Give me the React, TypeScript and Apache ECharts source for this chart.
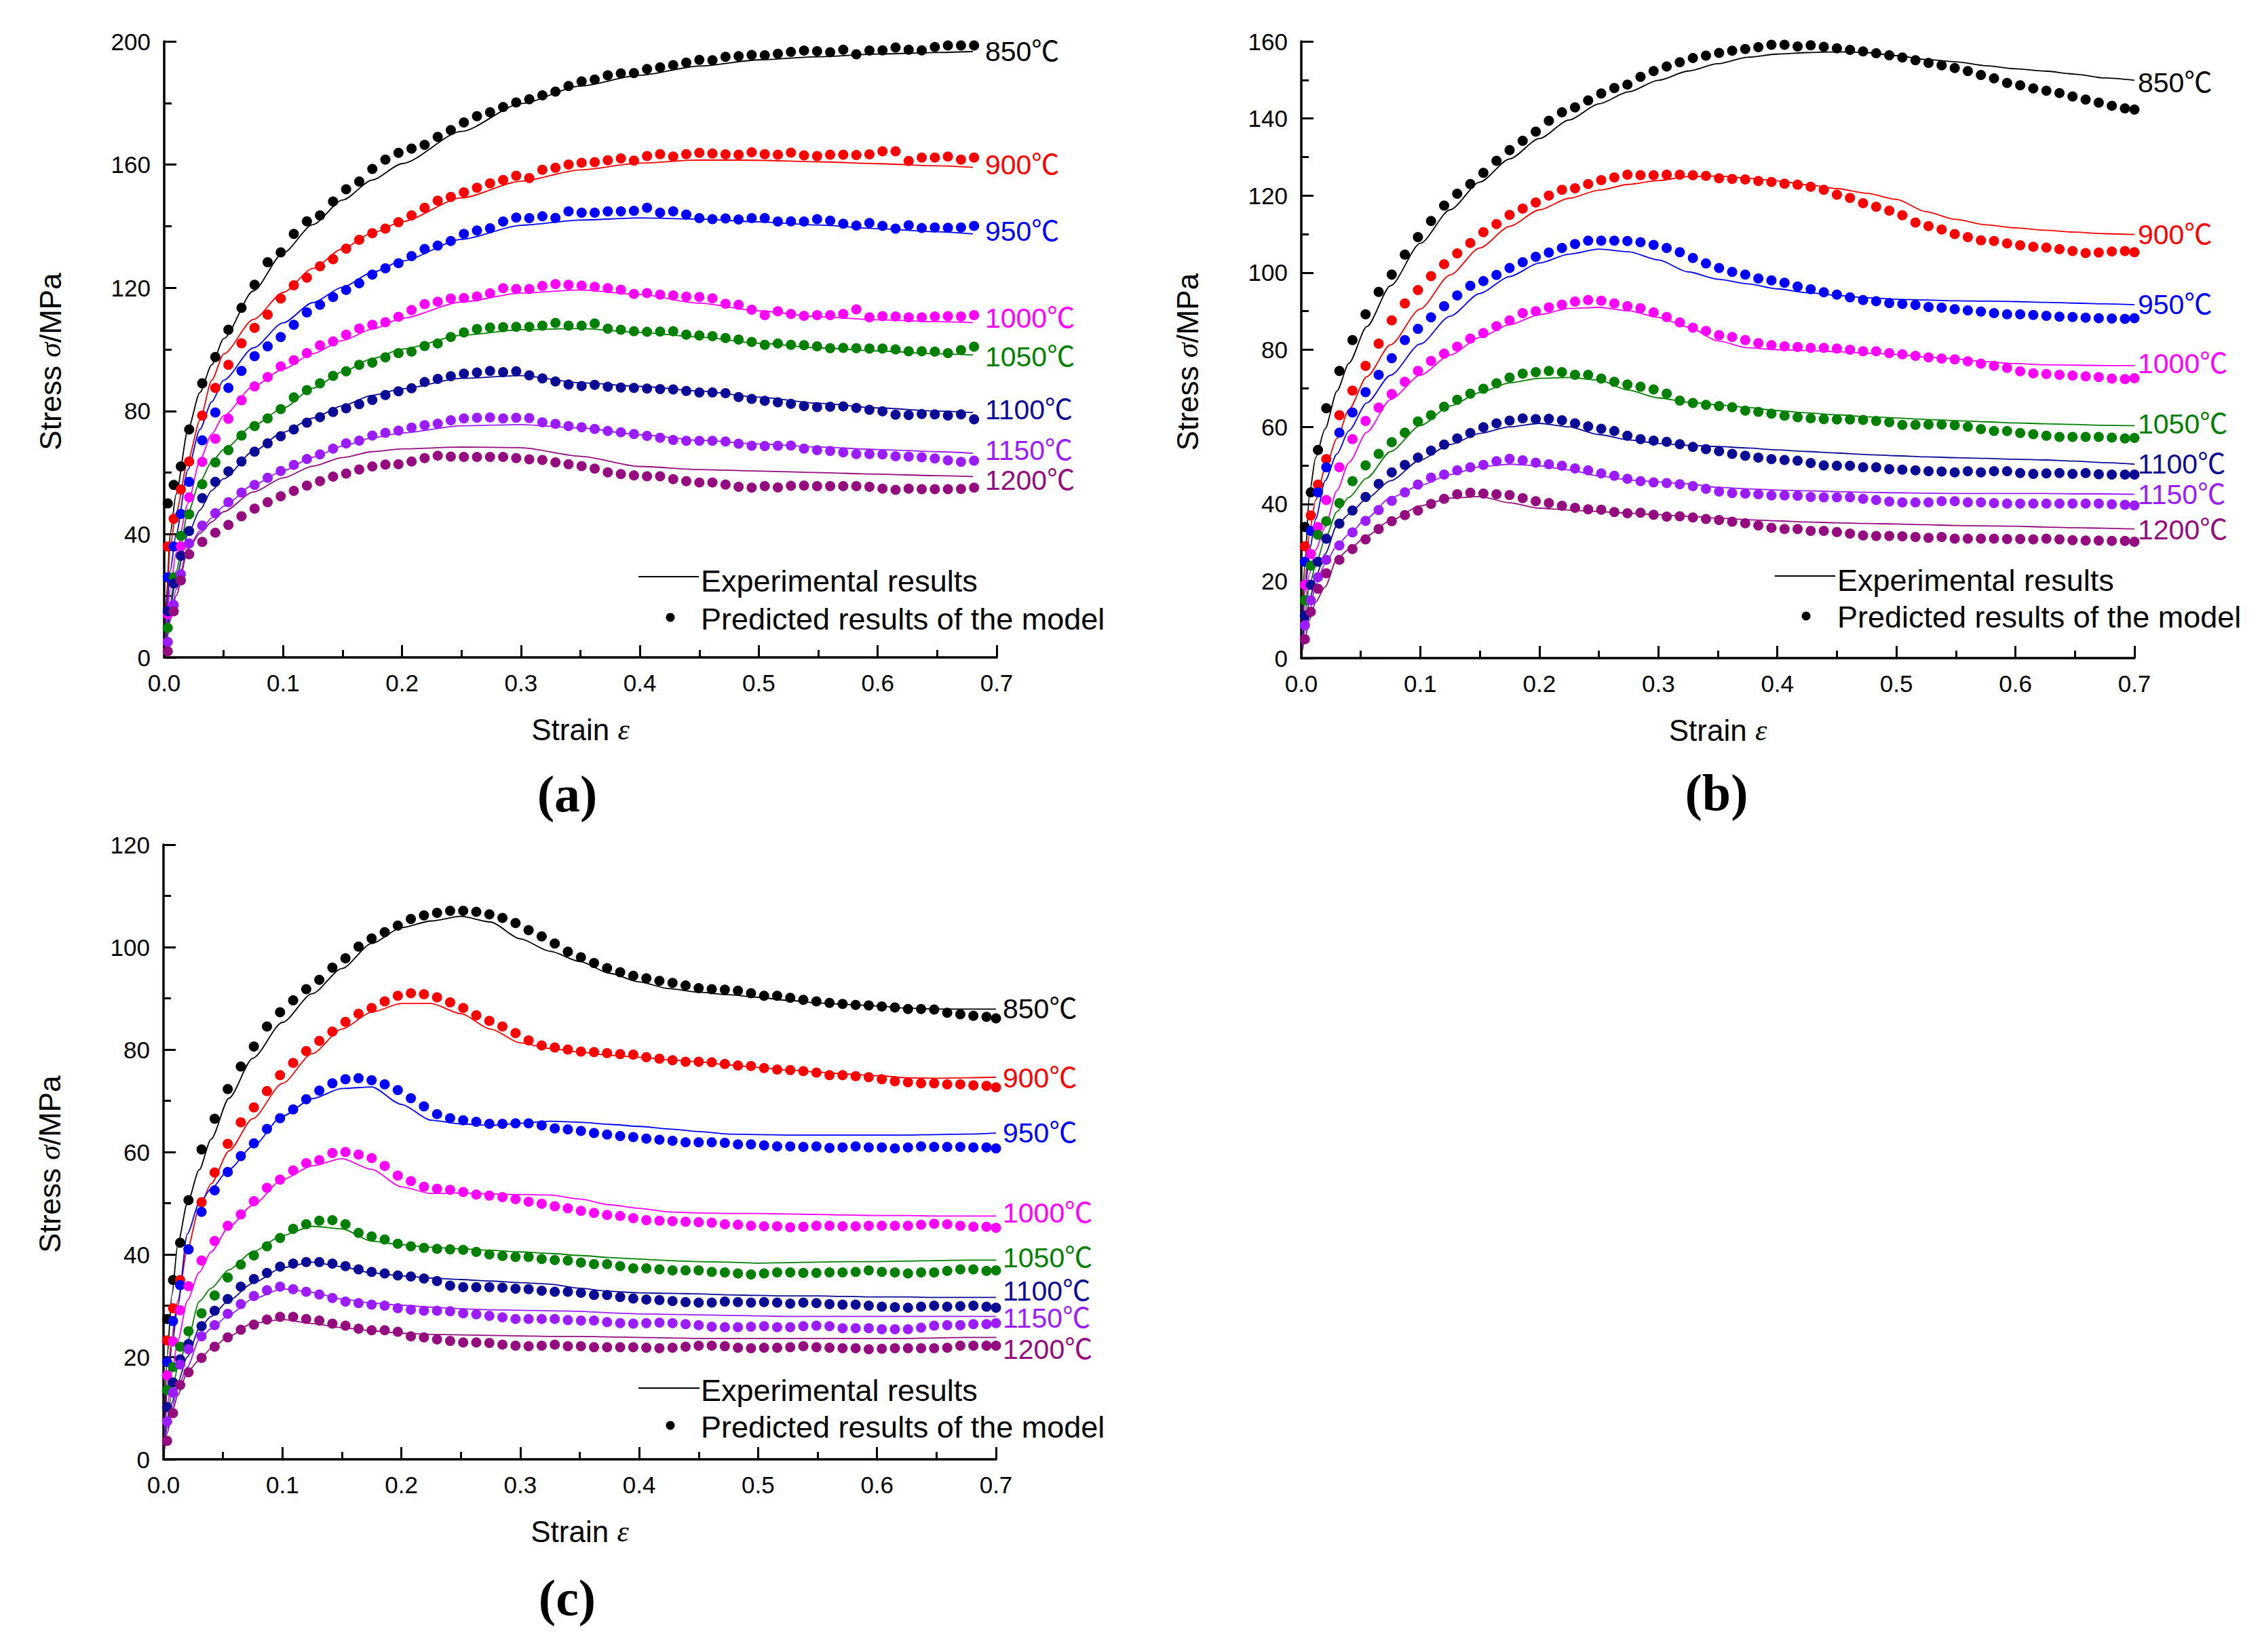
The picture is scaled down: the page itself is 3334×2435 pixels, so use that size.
import React, { useEffect, useRef } from "react";
import * as echarts from "echarts";

// ---------- categories ----------
const temps = ["850", "900", "950", "1000", "1050", "1100", "1150", "1200"];
const colors = ["#000000", "#ff0000", "#0000ff", "#ff00ff", "#008000", "#0b0b96", "#9b1cff", "#940c7e"];

// strain positions of predicted points
const dotStrainA = [
  0.003, 0.008, 0.014, 0.021, 0.032, 0.043, 0.054, 0.065,
  0.076, 0.087, 0.098, 0.109, 0.12, 0.131, 0.142, 0.153,
  0.164, 0.175, 0.186, 0.197, 0.208, 0.219, 0.23, 0.241,
  0.252, 0.263, 0.274, 0.285, 0.296, 0.307, 0.318, 0.329,
  0.34, 0.351, 0.362, 0.373, 0.384, 0.395, 0.406, 0.417,
  0.428, 0.439, 0.45, 0.461, 0.472, 0.483, 0.494, 0.505,
  0.516, 0.527, 0.538, 0.549, 0.56, 0.571, 0.582, 0.593,
  0.604, 0.615, 0.626, 0.637, 0.648, 0.659, 0.67, 0.681,
];
const dotStrainBC = [
  0.003, 0.008, 0.014, 0.021, 0.032, 0.043, 0.054, 0.065,
  0.076, 0.087, 0.098, 0.109, 0.12, 0.131, 0.142, 0.153,
  0.164, 0.175, 0.186, 0.197, 0.208, 0.219, 0.23, 0.241,
  0.252, 0.263, 0.274, 0.285, 0.296, 0.307, 0.318, 0.329,
  0.34, 0.351, 0.362, 0.373, 0.384, 0.395, 0.406, 0.417,
  0.428, 0.439, 0.45, 0.461, 0.472, 0.483, 0.494, 0.505,
  0.516, 0.527, 0.538, 0.549, 0.56, 0.571, 0.582, 0.593,
  0.604, 0.615, 0.626, 0.637, 0.648, 0.659, 0.67, 0.681,
  0.692, 0.7,
];
// strain positions of experimental curves
const lineStrainA = [
  0.001, 0.002, 0.005, 0.01, 0.02, 0.03, 0.04, 0.05,
  0.075, 0.1, 0.125, 0.15, 0.175, 0.2, 0.25, 0.3,
  0.35, 0.4, 0.45, 0.5, 0.55, 0.6, 0.65, 0.68,
];
const lineStrainBC = [
  0.001, 0.003, 0.007, 0.012, 0.02, 0.03, 0.04, 0.055,
  0.075, 0.1, 0.125, 0.15, 0.175, 0.2, 0.225, 0.25,
  0.275, 0.3, 0.325, 0.35, 0.375, 0.4, 0.425, 0.45,
  0.475, 0.5, 0.525, 0.55, 0.575, 0.6, 0.625, 0.65,
  0.675, 0.7,
];

// ---------- panel (a): predicted ----------
const a850 = [
  50, 56, 62, 74, 89, 97.5, 106.4, 113.5,
  121, 128.3, 131.5, 137.5, 141.6, 143.5, 148, 152,
  154.5, 158.6, 161.6, 163.8, 165.2, 166.4, 169, 171.2,
  173.7, 175.7, 177, 178.7, 180.2, 181.2, 182.5, 183.7,
  185.5, 187, 187.6, 189, 189.6, 189.7, 191, 191.6,
  192.3, 193.1, 194, 193.9, 195, 195.2, 195.6, 195.5,
  196, 196.6, 197, 196.8, 196.5, 197.3, 195.8, 197,
  197.1, 198, 197.3, 197.1, 198.2, 198.7, 198.7, 198.7,
];
const a900 = [
  36, 45, 54.5, 63.6, 78.5, 87.5, 95, 102,
  107, 111.3, 116.5, 120.8, 123.3, 127, 129.3, 132.7,
  135.6, 137.7, 139.2, 141.3, 143.5, 146, 148.3, 149.5,
  151, 152.5, 153.9, 155, 156.4, 155.6, 158.3, 159,
  160, 160.6, 160.8, 161.4, 162, 161.3, 162.8, 163.4,
  162.6, 163.4, 163.8, 163.6, 163.3, 163.2, 164, 163.4,
  163.2, 163.9, 163, 162.8, 163.2, 163.2, 163.1, 163.3,
  164.3, 164.3, 161.2, 162.3, 162.3, 162.6, 161.6, 162.3,
];
const a950 = [
  26, 36, 46.6, 57, 70.5, 79.5, 87.5, 93,
  97.8, 101, 104, 108, 112, 114.5, 117, 119.3,
  121.5, 124.3, 126.3, 128, 130.3, 132.6, 133.7, 135.2,
  137.5, 138.6, 139.3, 141.5, 142.8, 142.6, 143.2, 142.7,
  144.8, 144.4, 144.4, 144.8, 144.8, 145, 146, 144.4,
  144.8, 143.8, 142.6, 142.3, 142.5, 142.2, 142.6, 142.6,
  141.5, 141.6, 141.5, 142.3, 141.8, 140.8, 140.2, 141,
  140.1, 139.2, 140.3, 139.4, 139.6, 139.5, 139.6, 140.1,
];
const a1000 = [
  14, 24, 36, 52, 63.5, 71, 77.5, 83.5,
  88, 91, 94.5, 96.5, 98.8, 101.3, 102.6, 104.8,
  106.8, 108, 108.8, 110.6, 112.8, 114.7, 115.5, 116.5,
  116.7, 117.2, 118.2, 119.9, 119.6, 119.6, 120.6, 121.2,
  121, 120.7, 120.3, 119.9, 119.4, 118, 118.3, 117.8,
  117.5, 117.1, 117, 116.6, 114.8, 114.5, 112.9, 111.1,
  112.4, 111.5, 110.9, 111.1, 111.1, 111.5, 113, 110.4,
  110.8, 110.7, 110.4, 110.4, 110.7, 110.8, 110.7, 111.1,
];
const a1050 = [
  9.6, 26, 39.5, 46.5, 56.2, 63.3, 67.3, 72,
  75.1, 77.6, 80.6, 84.4, 86.8, 89, 91.4, 92.9,
  95, 95.7, 97.4, 98.8, 99.3, 101.1, 101.9, 104,
  105.5, 106.6, 107.1, 107.2, 107.3, 107.3, 107.7, 108.6,
  107.7, 107.7, 108.4, 106.7, 106.4, 105.9, 105.7, 105.8,
  105.9, 104.8, 104.5, 104.3, 103.7, 103.2, 102.4, 101.5,
  101.9, 101.5, 101.4, 101, 100.4, 100.5, 100.4, 100.3,
  100.3, 100, 99.4, 99.4, 99.3, 98.8, 99.8, 100.9,
];
const a1100 = [
  15, 24, 33, 41, 51.7, 57, 60.4, 63.6,
  66.8, 69.5, 71.8, 74, 76.2, 78, 79.7, 80.9,
  82.2, 83.6, 85.2, 86.4, 87.4, 89.4, 90.4, 91.3,
  92.1, 92.5, 93, 92.6, 92.9, 91.6, 90.6, 89.6,
  88.6, 88.1, 88.5, 87.9, 87.6, 87.5, 87.3, 87.1,
  87, 86.5, 86, 86, 85.8, 84.5, 83.9, 83.3,
  82.8, 82.3, 81.6, 81.3, 81.4, 81.5, 81, 80.4,
  79.9, 78.8, 78.7, 79, 78.9, 78.5, 78.9, 77.3,
];
const a1150 = [
  5, 17, 27, 37, 42.8, 46.8, 50.4, 53.5,
  56, 58.3, 60.5, 62.5, 64.4, 65.9, 67.8, 69.5,
  70.4, 72, 72.9, 73.6, 74.6, 75.4, 75.9, 77,
  77.6, 77.8, 77.9, 77.6, 77.8, 77.7, 76.3, 75.8,
  75.1, 74.7, 74.2, 73.5, 73.1, 72.5, 71.9, 71.3,
  70.6, 70.3, 70.3, 70.3, 70.1, 69.4, 68.7, 68.6,
  68.7, 68.8, 67.8, 67.3, 67, 66.6, 66, 66,
  65.9, 65.3, 65.2, 65, 64.6, 64, 63.5, 63.9,
];
const a1200 = [
  2, 15, 25, 33.5, 37.5, 40.5, 43, 45.8,
  48.3, 50.4, 52.3, 54.1, 55.8, 57.2, 58.7, 59.7,
  61, 62, 62.6, 62.7, 63.6, 64.7, 65.5, 65.2,
  65.1, 65.1, 65.1, 65.1, 64.7, 64.3, 64.1, 63.3,
  62.7, 62.1, 61.3, 60.1, 59.5, 59.1, 58.8, 58.8,
  57.9, 57.2, 56.8, 56.8, 56.1, 55.4, 55.1, 55.6,
  55.2, 55.7, 55.8, 55.6, 55.6, 55.6, 55.6, 55.4,
  54.8, 54.4, 54.8, 54.6, 54.6, 54.6, 54.7, 55.1,
];
// ---------- panel (a): experimental ----------
const aL850 = [10, 20, 40, 53, 74, 86, 95, 103.5, 119, 131.3, 140.5, 148.5, 155, 160.3, 170.8, 179.8, 185.5, 189, 192, 194, 195, 195.9, 196.4, 196.7];
const aL900 = [8, 18, 36, 47, 64, 77, 90, 98.5, 109.7, 118.5, 126.3, 132.7, 137.8, 141.5, 149.2, 154.6, 158.3, 160.5, 161.5, 161.4, 160.9, 160.3, 159.6, 159.1];
const aL950 = [7, 15, 28, 40, 61, 74, 83, 90, 100.5, 108.6, 115.2, 120.2, 125, 128.7, 135.7, 140.3, 142, 142.7, 142.3, 141.4, 140.4, 139.2, 138.2, 137.5];
const aL1000 = [6, 12, 22, 34, 50, 64, 72.5, 78.5, 88, 93.6, 98.6, 102.9, 106.6, 110.1, 115.4, 118.3, 119.3, 117.8, 115, 112.5, 110.6, 109.6, 109, 108.7];
const aL1050 = [5, 10, 18, 28, 47, 57, 63.5, 67.5, 75.3, 80.9, 87.4, 92.7, 97, 100.1, 104.6, 106.4, 106.8, 105.5, 104, 102, 100.5, 99.5, 98.6, 98.2];
const aL1100 = [4, 8, 16, 26, 40, 47.8, 54.2, 58, 66.9, 73.1, 77.7, 81.7, 85.1, 87.2, 90.6, 91.5, 89.2, 88, 86.5, 84.5, 82.5, 81, 80, 79.5];
const aL1150 = [3, 6, 13, 22, 35.5, 41, 45.3, 49.1, 56, 60.6, 65, 68.6, 71.3, 72.9, 75.2, 75.6, 74.5, 72.3, 70.5, 69.3, 68.3, 67.5, 66.8, 66.3];
const aL1200 = [2, 5, 12, 20, 35, 40.3, 44, 47.3, 53.7, 58.3, 62.1, 64.9, 66.8, 67.7, 68.3, 68.1, 65.3, 62, 61, 60.5, 60, 59.5, 59, 58.7];

// ---------- panel (b): predicted ----------
const b850 = [
  34, 43, 54, 64.8, 74.5, 82.5, 89.2, 95,
  99.5, 104.7, 109.2, 113.4, 117.4, 120.5, 123, 125.9,
  129, 131.8, 134.2, 136.6, 139.4, 141.6, 142.9, 144.7,
  146.5, 147.9, 148.8, 150.8, 152.3, 153.5, 154.6, 155.7,
  156.3, 157, 157.6, 158, 158.5, 159.1, 159.1, 158.7,
  159, 158.6, 158.2, 157.8, 157.4, 156.9, 156.4, 155.8,
  155.1, 154.4, 153.8, 153.1, 152.3, 151.3, 150.4, 149.2,
  148.6, 147.8, 147.2, 146.6, 145.7, 144.9, 144.1, 143.3,
  142.6, 142.3,
];
const b900 = [
  29, 37, 45, 51.6, 63, 69.4, 75.8, 81.6,
  87.6, 92, 95.5, 99.1, 102.2, 105, 107.7, 110.5,
  112.6, 115, 116.6, 118.2, 120, 121.5, 121.9, 123,
  124, 124.7, 125.4, 125.3, 125.3, 125.4, 125.4, 125.3,
  125.1, 124.5, 124.3, 124.2, 123.8, 123.5, 123.1, 122.8,
  122.3, 121.5, 120.2, 119.4, 118, 117.1, 116.1, 114.9,
  113, 112.1, 111.2, 110, 109.2, 108.4, 108.2, 107.6,
  107.1, 106.7, 106.5, 106.1, 105.6, 105.1, 105.2, 105.5,
  105.6, 105.3,
];
const b950 = [
  25, 33, 43, 49.5, 58.5, 63.7, 69, 73.5,
  77.8, 82.5, 85.4, 88.4, 91.3, 94.1, 96.6, 97.8,
  99.4, 101.2, 102.7, 104.1, 105.2, 106.4, 107.4, 108.3,
  108.3, 108.3, 108.2, 107.9, 107.2, 106.4, 105.3, 103.8,
  102.4, 101.2, 100.2, 99.5, 98.5, 98, 97.4, 96.4,
  95.7, 94.9, 94.3, 93.6, 92.9, 92.6, 92.1, 91.9,
  91.6, 91.1, 90.9, 90.5, 90.2, 89.9, 89.5, 89.2,
  89.2, 89, 88.8, 88.6, 88.5, 88.3, 88.2, 88.1,
  88, 88.2,
];
const b1000 = [
  19, 27, 34, 41, 49.5, 56.8, 61.5, 65,
  68.5, 71.7, 74.5, 77.1, 79, 80.8, 82.9, 84.3,
  86.1, 87.6, 89.5, 90, 91, 91.7, 92.5, 92.9,
  92.7, 92, 91.3, 90.8, 89.7, 88.5, 87.1, 85.7,
  84.9, 83.8, 83.3, 82.5, 81.7, 81.2, 80.9, 80.7,
  80.5, 80.5, 80.3, 80, 79.6, 79.6, 79.1, 78.8,
  78.4, 78, 77.7, 77.5, 77, 76.4, 75.8, 75.3,
  74.4, 73.9, 73.7, 73.5, 73.3, 73.1, 72.9, 72.5,
  72.4, 72.6,
];
const b1050 = [
  15, 24, 32, 35.5, 40.2, 45.9, 50, 53,
  56, 58.5, 61.4, 63, 65.2, 67, 68.6, 69.9,
  71.3, 72.8, 73.8, 74.2, 74.5, 74.2, 73.5, 73.5,
  72.5, 71.7, 71, 70.4, 69.7, 68.6, 66.8, 66.2,
  65.7, 65.4, 65.1, 64.2, 63.9, 63.4, 62.9, 62.5,
  62.2, 62, 61.9, 61.9, 61.8, 61.5, 61.2, 60.5,
  60.5, 60.6, 60.6, 60.4, 60, 59.4, 58.9, 58.9,
  58.4, 58.1, 57.7, 57.4, 57.4, 57.4, 57.4, 57.2,
  57, 57.1,
];
const b1100 = [
  11, 19, 25, 31, 34.9, 38.3, 41.8, 45.2,
  48.2, 50.1, 52, 53.8, 55.4, 57, 58.4, 59.9,
  60.9, 61.6, 62.2, 62, 62.1, 61.7, 60.9, 60.1,
  59.5, 58.9, 57.7, 56.8, 56.4, 56.1, 55.5, 54.8,
  54.2, 53.7, 53, 52.5, 52, 51.6, 51.4, 51.2,
  50.6, 50, 49.9, 49.9, 49.5, 49.5, 49, 48.9,
  48.7, 48.5, 48.4, 48.2, 48.5, 48.2, 48.5, 48.5,
  48, 47.8, 47.9, 48, 47.8, 48, 47.7, 47.6,
  47.6, 47.6,
];
const b1150 = [
  8.5, 15, 21, 25.5, 29.2, 32.6, 35.6, 38.4,
  40.8, 43, 45, 46.8, 47.6, 48.7, 49.5, 50.1,
  51.1, 51.7, 51.3, 50.7, 50.3, 49.9, 49.2, 48.7,
  47.9, 47.3, 46.5, 45.9, 45.6, 45.4, 45.1, 44.6,
  43.9, 43.2, 42.8, 42.7, 42.5, 42.2, 42.2, 42.1,
  41.8, 41.7, 41.7, 41.7, 41.3, 41, 40.6, 40.4,
  40.4, 40.4, 40.7, 40.7, 40.4, 40.4, 40.2, 40.1,
  40.1, 40.1, 40.1, 40.1, 40.1, 40.1, 40.1, 39.9,
  39.8, 39.6,
];
const b1200 = [
  4.9, 12, 18, 22, 25.5, 28.3, 30.8, 33.5,
  35.5, 37.1, 38.3, 40, 41.3, 42.5, 42.9, 42.7,
  42.5, 42.3, 41.5, 40.7, 40.2, 39.5, 39, 38.6,
  38.5, 37.9, 37.6, 37.7, 37.2, 36.7, 36.8, 36.5,
  36.1, 35.8, 35.4, 35, 34.4, 33.8, 33.5, 33.5,
  33, 33, 32.7, 32.3, 31.8, 31.7, 31.7, 31.6,
  31.4, 31.2, 31.4, 31, 31, 31, 31, 30.9,
  30.9, 30.8, 31, 30.8, 30.6, 30.5, 30.5, 30.4,
  30.4, 30.2,
];
// ---------- panel (b): experimental ----------
const bL850 = [10, 25, 43, 52, 59.5, 69.3, 76.5, 86, 96.6, 107.6, 116.3, 123.5, 129.5, 134.8, 139.6, 143.8, 146.9, 149.9, 152.3, 154.2, 155.9, 156.7, 157.1, 157.3, 157.1, 156.3, 155.3, 154.7, 153.7, 152.9, 152.3, 151.5, 150.5, 149.9];
const bL900 = [8, 20, 33, 41, 49.2, 57, 64.5, 73, 81.3, 90.6, 99.4, 106.4, 112, 116.3, 119.3, 121.4, 122.9, 123.9, 124.9, 125.1, 124.5, 123.8, 122.8, 121.8, 120.6, 119, 115.8, 113.8, 112.4, 111.6, 111, 110.5, 110.1, 109.9];
const bL950 = [7, 17, 28, 36, 46, 53, 59, 66.2, 73.4, 81.5, 88.7, 94.6, 99, 102.5, 104.8, 106.1, 105.4, 103.3, 100.2, 98.3, 97.1, 95.8, 94.8, 94.1, 93.5, 93.1, 92.9, 92.7, 92.6, 92.5, 92.3, 92.1, 91.9, 91.7];
const bL1000 = [6, 14, 22, 28, 34, 43.5, 50.7, 58.6, 67.1, 73.4, 78.6, 83.2, 86.5, 89.1, 90.7, 91, 90.1, 88.4, 85.9, 82.3, 80.5, 80, 79.8, 79.5, 79.1, 78.8, 78.1, 77.6, 76.9, 76.4, 76.1, 76, 75.9, 75.9];
const bL1050 = [5, 12, 19, 24, 31, 38, 41.7, 46.7, 53.6, 60.3, 65.4, 68.9, 71.4, 72.6, 72.8, 72.1, 69.5, 67.5, 66.4, 65.7, 65, 64.2, 63.6, 63.1, 62.6, 62.3, 61.9, 61.6, 61.3, 61, 60.8, 60.6, 60.4, 60.3];
const bL1100 = [4, 9, 15, 21, 27, 34.5, 37.3, 41.4, 46, 51.4, 55.4, 58.3, 60, 60.9, 60, 58, 56.6, 55.7, 55.2, 54.9, 54.5, 54, 53.6, 53.2, 52.8, 52.5, 52.2, 52, 51.8, 51.6, 51.4, 51.1, 50.7, 50.3];
const bL1150 = [3, 7, 12, 19, 24.5, 29.2, 32.1, 36.3, 41.6, 44.8, 47.6, 49.6, 50.3, 49.9, 48.8, 47.3, 46.2, 45.7, 45.2, 44.3, 43.9, 43.6, 43.4, 43.2, 43, 42.9, 42.8, 42.7, 42.7, 42.7, 42.7, 42.6, 42.6, 42.5];
const bL1200 = [2, 5, 10, 14.5, 18.5, 25.8, 28.2, 31.7, 35.7, 39.5, 41.5, 41.9, 40.3, 38.9, 38.4, 38, 37.6, 37.2, 36.8, 36.3, 35.9, 35.6, 35.3, 35.1, 34.9, 34.8, 34.6, 34.4, 34.3, 34.2, 34, 33.8, 33.7, 33.5];

// ---------- panel (c): predicted ----------
const c850 = [
  27.4, 35, 42.3, 50.6, 60.5, 66.5, 72.3, 76.7,
  80.6, 84.5, 87.3, 89.6, 91.8, 93.6, 96, 97.8,
  100.1, 101.7, 102.9, 104.2, 105.5, 106.2, 106.7, 107.1,
  107.1, 106.9, 106.4, 105.7, 104.7, 103.3, 102.1, 100.7,
  99.1, 98, 96.9, 95.9, 95.1, 94.4, 93.9, 93.4,
  93, 92.5, 92, 91.8, 91.7, 91.5, 91, 90.5,
  90.5, 90.1, 89.7, 89.4, 89.1, 88.9, 88.7, 88.6,
  88.4, 88.2, 87.9, 87.9, 87.8, 87.2, 86.9, 86.6,
  86.4, 86.1,
];
const c900 = [
  23.2, 29.5, 35, 41, 50.2, 56, 61.6, 65.8,
  68.7, 71.9, 75, 77.4, 79.7, 81.7, 83.5, 85.4,
  87, 88.1, 89.4, 90.5, 91, 90.8, 90.2, 89.2,
  88.1, 86.7, 85.6, 84.5, 83.2, 81.8, 80.8, 80.4,
  80, 79.6, 79.5, 79.3, 79.1, 79, 78.5, 78.2,
  77.9, 77.6, 77.6, 77.5, 77.2, 76.9, 76.8, 76.4,
  76.1, 76, 75.8, 75.5, 75, 75, 74.8, 74.6,
  74.2, 73.8, 73.6, 73.4, 73.4, 73.2, 73.2, 73,
  72.9, 72.6,
];
const c950 = [
  19, 27, 34, 41, 48.3, 52.5, 56.1, 59.2,
  61.7, 64.5, 66.6, 68.3, 70.3, 72, 73.4, 74.2,
  74.4, 74, 73.2, 72.1, 70.5, 68.9, 67.4, 66.6,
  66.2, 65.9, 65.5, 65.5, 65.6, 65.6, 65.2, 64.6,
  64.4, 64.1, 63.7, 63.4, 63.1, 62.9, 62.6, 62.4,
  62.2, 61.9, 61.9, 61.9, 61.8, 61.5, 61.5, 61.3,
  61.1, 61.1, 61, 61.1, 60.8, 60.9, 61.1, 60.9,
  60.9, 60.7, 60.9, 61.1, 61, 61, 61, 60.9,
  60.9, 60.7,
];
const c1000 = [
  16.4, 23, 29.1, 33.8, 38.8, 42.6, 45.6, 47.8,
  50.4, 53, 54.6, 56.4, 57.8, 58.4, 59.8, 60,
  59.5, 58.8, 57.3, 55.4, 54.3, 53.2, 52.8, 52.6,
  52.2, 51.7, 51.5, 51.2, 50.8, 50.3, 49.9, 49.4,
  49, 48.5, 48.1, 47.7, 47.5, 47.1, 46.7, 46.6,
  46.5, 46.4, 46.3, 46.2, 45.9, 45.8, 45.6, 45.5,
  45.5, 45.3, 45.4, 45.6, 45.6, 45.5, 45.5, 45.6,
  45.6, 45.6, 45.6, 45.8, 46, 45.9, 45.6, 45.4,
  45.4, 45.2,
];
const c1050 = [
  13.5, 18, 22, 25, 28.5, 32, 35.5, 38,
  39.8, 41.6, 43.2, 45, 45.9, 46.6, 46.7, 45.9,
  44.2, 43.5, 42.9, 42.1, 41.6, 41.3, 41.1, 41,
  40.9, 40.5, 40, 39.7, 39.5, 39.5, 39.1, 38.9,
  38.8, 38.4, 38.1, 38.1, 37.7, 37.3, 37.3, 37.1,
  36.9, 36.9, 36.9, 36.6, 36.5, 36.3, 36.1, 36.3,
  36.5, 36.5, 36.4, 36.4, 36.5, 36.5, 36.6, 36.9,
  36.6, 36.5, 36.3, 36.5, 36.5, 36.8, 37.1, 37.1,
  36.8, 36.9,
];
const c1100 = [
  10.2, 15, 19.5, 22.5, 26, 29, 31.3, 33.7,
  35.2, 36.4, 37.6, 38.2, 38.5, 38.5, 38.2, 37.7,
  37.1, 36.6, 36.3, 35.9, 35.7, 35.3, 34.8, 33.9,
  33.6, 33.6, 33.6, 33.5, 33.3, 33.2, 32.9, 32.7,
  32.7, 32.5, 32.1, 32.1, 31.7, 31.4, 31.2, 31.1,
  30.9, 30.7, 30.6, 30.6, 30.8, 30.7, 30.6, 30.7,
  30.6, 30.4, 30.6, 30.5, 30.3, 30.2, 30.2, 30,
  29.8, 29.7, 29.6, 29.8, 30, 29.8, 29.9, 30,
  29.8, 29.6,
];
const c1150 = [
  7.4, 13, 18.5, 21.5, 24, 26.2, 28.4, 30.3,
  31.9, 33, 33.7, 33.2, 32.7, 32.2, 31.5, 30.8,
  30.5, 30.2, 30, 29.5, 29.2, 29, 29, 28.9,
  28.5, 28.3, 28, 27.7, 27.4, 27.4, 27.4, 27.4,
  27.2, 27.1, 27.1, 26.8, 26.6, 26.5, 26.6, 26.7,
  26.6, 26.4, 26.2, 25.9, 25.8, 25.8, 25.9, 26,
  25.8, 25.8, 26, 26.1, 26, 25.6, 25.6, 25.6,
  25.4, 25.4, 25.4, 25.7, 26.1, 26.2, 26.2, 26.4,
  26.4, 26.6,
];
const c1200 = [
  3.6, 9, 14.5, 17, 19.8, 22, 23.8, 25.3,
  26.3, 27.3, 27.8, 27.8, 27.4, 27.1, 26.5, 26.1,
  25.5, 25.2, 25.2, 24.9, 24, 23.8, 23.4, 23.1,
  22.8, 22.8, 22.7, 22.4, 22.2, 22.1, 22.2, 22.4,
  22.1, 22.1, 21.9, 21.9, 21.9, 21.9, 21.8, 21.7,
  21.8, 22, 22.2, 22.2, 22.1, 21.8, 21.7, 21.8,
  21.8, 21.9, 22.1, 21.9, 21.8, 21.7, 21.7, 21.5,
  21.6, 21.7, 21.7, 21.7, 21.7, 21.8, 22.2, 22.2,
  22.2, 22.2,
];
// ---------- panel (c): experimental ----------
const cL850 = [8, 20, 32, 42, 50, 56.5, 62.5, 70.5, 78.3, 85.3, 90.9, 95.8, 100.7, 103.8, 105.1, 106, 104.9, 101.6, 99.2, 97.2, 94.9, 93.2, 91.9, 91.2, 90.7, 90.2, 89.6, 89.1, 88.8, 88.5, 88.1, 87.9, 87.9, 87.9];
const cL900 = [6, 15, 24, 31, 41, 49, 53.8, 60.2, 66.5, 73.4, 79.2, 84, 87.3, 89, 89, 87, 84, 81.3, 80.2, 79.5, 78.9, 78.5, 78, 77.6, 77, 76.5, 76, 75.6, 75.2, 74.9, 74.5, 74.4, 74.5, 74.6];
const cL950 = [5, 13, 22, 30, 44, 50, 52.8, 56.6, 61.1, 67, 70.4, 72.4, 72.7, 69.3, 66.2, 65.5, 65.2, 65.6, 66, 65.8, 65.4, 65, 64.5, 64, 63.5, 63.4, 63.3, 63.3, 63.3, 63.3, 63.3, 63.4, 63.5, 63.7];
const cL1000 = [4, 10, 17, 23, 31, 36.5, 40.5, 45.4, 49.6, 54.6, 57.3, 58.7, 56.6, 53.2, 51.9, 52, 51.8, 51.7, 51.6, 50.8, 49.7, 49, 48.3, 48.1, 48, 48, 47.9, 47.8, 47.7, 47.6, 47.6, 47.5, 47.5, 47.5];
const cL1050 = [3, 8, 13, 18, 23, 30.8, 33.4, 37, 40.5, 43.7, 45.5, 45, 42.6, 41.9, 41.4, 41.1, 40.8, 40.5, 40.2, 39.8, 39.4, 39.1, 38.8, 38.6, 38.5, 38.3, 38.4, 38.5, 38.6, 38.6, 38.7, 38.8, 38.9, 38.9];
const cL1100 = [3, 7, 11, 15, 20, 25.5, 27.9, 31, 34.4, 37.4, 38.5, 37.6, 36.4, 35.8, 35.4, 35.1, 34.8, 34.5, 34.2, 33.4, 32.8, 32.5, 32.4, 32.3, 32.1, 32, 31.9, 31.9, 31.8, 31.7, 31.7, 31.6, 31.6, 31.6];
const cL1150 = [2, 6, 10, 14, 18, 23.4, 25.5, 28.2, 31.3, 33.3, 32.6, 31.3, 30.5, 30.1, 29.7, 29.4, 29.2, 29.1, 29, 28.9, 28.6, 28.4, 28.3, 28.2, 28.1, 28, 27.9, 27.9, 27.9, 27.9, 27.9, 27.9, 27.9, 27.9];
const cL1200 = [2, 5, 9, 12.5, 17, 19.4, 21.6, 24, 26.6, 27.3, 26.5, 25.7, 25.1, 24.6, 24.4, 24.3, 24.2, 24.1, 24, 24, 23.9, 23.8, 23.7, 23.6, 23.6, 23.6, 23.6, 23.6, 23.6, 23.6, 23.6, 23.7, 23.8, 23.8];

// ---------- axis tick settings ----------
const yMaxes = [200, 160, 120];
const yIntervals = [40, 20, 20];
const panelLetters = ["(a)", "(b)", "(c)"];
const legendTexts = ["Experimental results", "Predicted results of the model"];

// ---------- styles / layout (not data) ----------
const SANS = '"Liberation Sans", Arial, sans-serif';
const LABEL_FONT = '"Liberation Sans", "Noto Sans CJK SC", sans-serif';
const SERIF = '"Liberation Serif", "DejaVu Serif", serif';
const grids = [
  { left: 242, top: 61, width: 1227, height: 908 },
  { left: 1918, top: 61, width: 1228, height: 909 },
  { left: 241, top: 1245, width: 1227, height: 906 },
];
const endLabelDistance = [18, 5, 10];
const endLabelOffsets = [
  [0, -4, -4, -7, 3, -4, -4, 5],
  [4, 0, 0, -3, -2, 0, 0, 1],
  [0, 1, 0, -4, -3, -9, 3, 18],
];
const letterPos = [
  [836, 1170],
  [2530, 1168],
  [836, 2355],
];
const legendPos = [
  { x1: 941, x2: 1030, ly: 850, tx: 1033, t1y: 856, cx: 988, cy: 910, t2y: 912 },
  { x1: 2616, x2: 2705, ly: 849, tx: 2708, t1y: 855, cx: 2662, cy: 908, t2y: 909 },
  { x1: 941, x2: 1031, ly: 2046, tx: 1033, t1y: 2049, cx: 988, cy: 2101, t2y: 2103 },
];

const panels = [
  {
    dotX: dotStrainA,
    lineX: lineStrainA,
    dots: [a850, a900, a950, a1000, a1050, a1100, a1150, a1200],
    lines: [aL850, aL900, aL950, aL1000, aL1050, aL1100, aL1150, aL1200],
  },
  {
    dotX: dotStrainBC,
    lineX: lineStrainBC,
    dots: [b850, b900, b950, b1000, b1050, b1100, b1150, b1200],
    lines: [bL850, bL900, bL950, bL1000, bL1050, bL1100, bL1150, bL1200],
  },
  {
    dotX: dotStrainBC,
    lineX: lineStrainBC,
    dots: [c850, c900, c950, c1000, c1050, c1100, c1150, c1200],
    lines: [cL850, cL900, cL950, cL1000, cL1050, cL1100, cL1150, cL1200],
  },
];

function zip(xs: number[], ys: number[]) {
  const n = Math.min(xs.length, ys.length);
  const out: number[][] = [];
  for (let i = 0; i < n; i++) out.push([xs[i], ys[i]]);
  return out;
}

function buildOption() {
  const xAxis: any[] = [];
  const yAxis: any[] = [];
  const series: any[] = [];
  const graphic: any[] = [];

  panels.forEach((p, pi) => {
    xAxis.push({
      type: "value",
      gridIndex: pi,
      min: 0,
      max: 0.7,
      interval: 0.1,
      name: "Strain {e|ε}",
      nameLocation: "middle",
      nameGap: 84,
      nameMoveOverlap: false,
      nameTextStyle: {
        fontSize: 44,
        fontFamily: SANS,
        color: "#000",
        rich: { e: { fontSize: 44, fontStyle: "italic", fontFamily: SERIF, color: "#000" } },
      },
      axisLine: { show: true, onZero: false, lineStyle: { color: "#000", width: 3.5 } },
      axisTick: { show: true, inside: true, length: 18, lineStyle: { color: "#000", width: 3 } },
      minorTick: { show: true, splitNumber: 2, length: 11, lineStyle: { color: "#000", width: 3 } },
      axisLabel: {
        show: true,
        fontSize: 35,
        color: "#000",
        fontFamily: SANS,
        margin: 20,
        formatter: (v: number) => v.toFixed(1),
      },
      splitLine: { show: false },
      minorSplitLine: { show: false },
    });
    yAxis.push({
      type: "value",
      gridIndex: pi,
      min: 0,
      max: yMaxes[pi],
      interval: yIntervals[pi],
      name: "Stress {s|σ}/MPa",
      nameLocation: "middle",
      nameGap: 146,
      nameMoveOverlap: false,
      nameTextStyle: {
        fontSize: 44,
        fontFamily: SANS,
        color: "#000",
        padding: [0, 36, 0, 0],
        rich: { s: { fontSize: 44, fontStyle: "italic", fontFamily: SERIF, color: "#000" } },
      },
      axisLine: { show: true, onZero: false, lineStyle: { color: "#000", width: 3.5 } },
      axisTick: { show: true, inside: true, length: 18, lineStyle: { color: "#000", width: 3 } },
      minorTick: { show: true, splitNumber: 2, length: 11, lineStyle: { color: "#000", width: 3 } },
      axisLabel: { show: true, fontSize: 35, color: "#000", fontFamily: SANS, margin: 20 },
      splitLine: { show: false },
      minorSplitLine: { show: false },
    });

    temps.forEach((t, k) => {
      const color = colors[k];
      series.push({
        type: "line",
        name: `${t}℃ experimental`,
        xAxisIndex: pi,
        yAxisIndex: pi,
        data: zip(p.lineX, p.lines[k]),
        symbol: "none",
        showSymbol: false,
        smooth: 0.25,
        smoothMonotone: "x",
        lineStyle: { color, width: 1.8 },
        itemStyle: { color },
        silent: true,
        z: 2,
        endLabel: {
          show: true,
          formatter: () => `${t}℃`,
          color,
          fontSize: 41,
          lineHeight: 34,
          fontFamily: LABEL_FONT,
          distance: endLabelDistance[pi],
          offset: [0, endLabelOffsets[pi][k]],
        },
      });
    });
    temps.forEach((t, k) => {
      const color = colors[k];
      series.push({
        type: "scatter",
        name: `${t}℃ predicted`,
        xAxisIndex: pi,
        yAxisIndex: pi,
        data: zip(p.dotX, p.dots[k]),
        symbol: "circle",
        symbolSize: 15,
        itemStyle: { color, opacity: 1 },
        silent: true,
        z: 3,
      });
    });

    const lp = legendPos[pi];
    graphic.push(
      {
        type: "line",
        shape: { x1: lp.x1, y1: lp.ly, x2: lp.x2, y2: lp.ly },
        style: { stroke: "#000", lineWidth: 1.8 },
        silent: true,
      },
      {
        type: "text",
        x: lp.tx,
        y: lp.t1y,
        style: {
          text: legendTexts[0],
          fill: "#000",
          font: `45px ${SANS}`,
          align: "left",
          verticalAlign: "middle",
        },
        silent: true,
      },
      {
        type: "circle",
        shape: { cx: lp.cx, cy: lp.cy, r: 6.5 },
        style: { fill: "#000" },
        silent: true,
      },
      {
        type: "text",
        x: lp.tx,
        y: lp.t2y,
        style: {
          text: legendTexts[1],
          fill: "#000",
          font: `45px ${SANS}`,
          align: "left",
          verticalAlign: "middle",
        },
        silent: true,
      },
      {
        type: "text",
        x: letterPos[pi][0],
        y: letterPos[pi][1],
        style: {
          text: panelLetters[pi],
          fill: "#000",
          font: `bold 76px ${SERIF}`,
          align: "center",
          verticalAlign: "middle",
        },
        silent: true,
      }
    );
  });

  return {
    animation: false,
    backgroundColor: "#ffffff",
    grid: grids.map((g) => ({ ...g, containLabel: false, outerBoundsMode: "none" })),
    xAxis,
    yAxis,
    series,
    graphic,
  };
}

export default function App() {
  const ref = useRef<HTMLDivElement>(null);
  useEffect(() => {
    if (!ref.current) return;
    const chart = echarts.init(ref.current, null, { renderer: "svg" });
    chart.setOption(buildOption() as any);
    return () => {
      chart.dispose();
    };
  }, []);
  return (
    <div
      ref={ref}
      style={{ position: "fixed", left: 0, top: 0, width: "3334px", height: "2435px", background: "#ffffff" }}
    />
  );
}
